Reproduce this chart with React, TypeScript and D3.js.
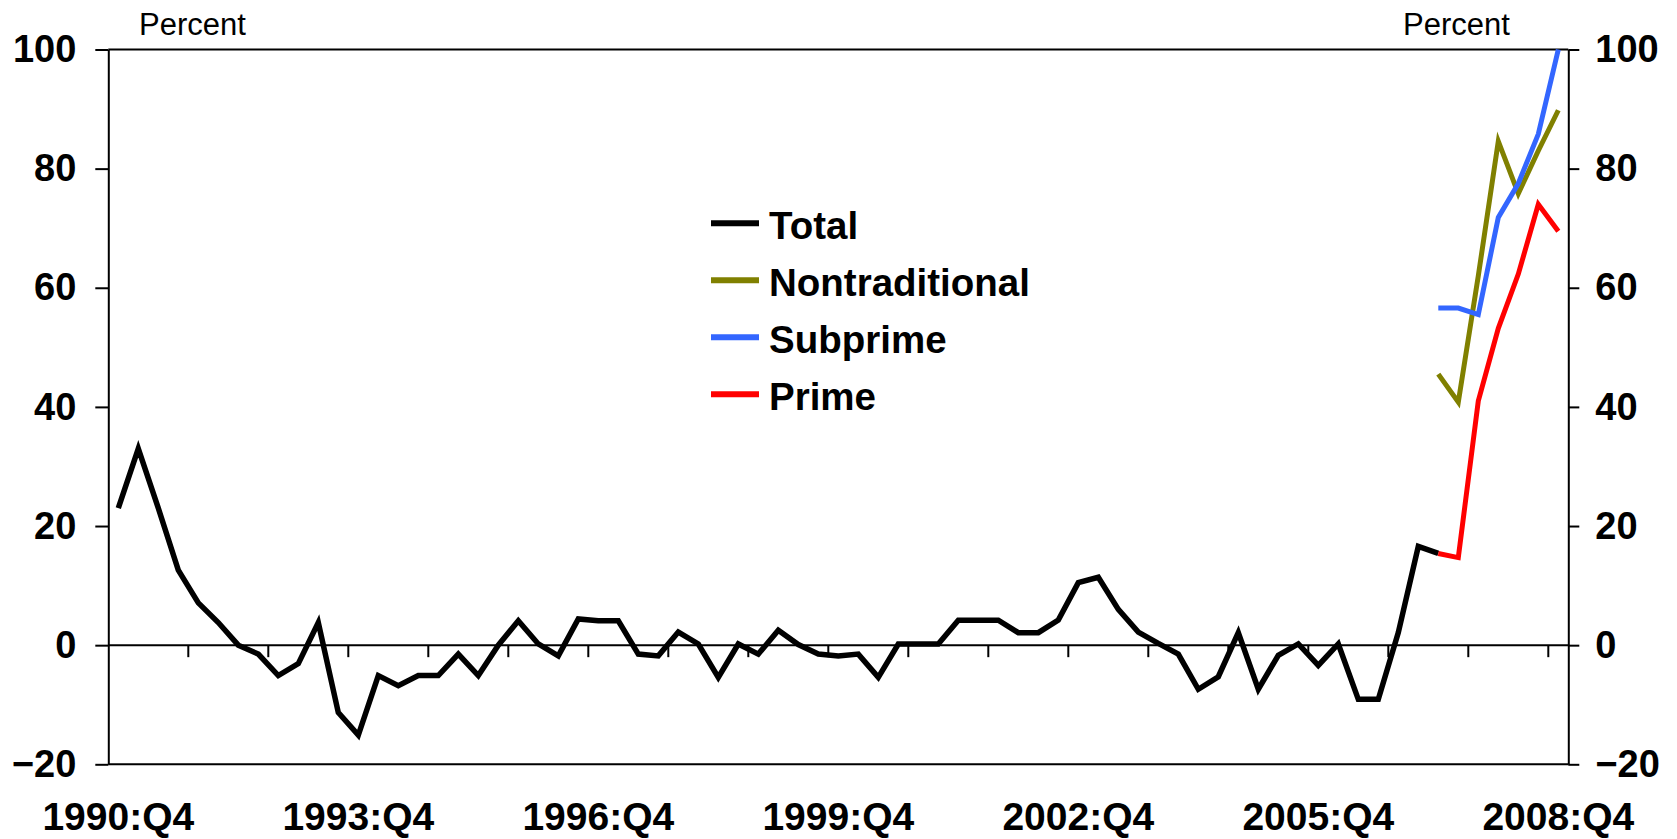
import React, { useEffect, useRef } from "react";
import * as d3 from "d3";

// quarter categories, 1990:Q4 .. 2008:Q4
const quarters: string[] = [];
for (let i = 0; i < 73; i++) {
  quarters.push(`${1990 + Math.floor((i + 3) / 4)}:Q${((i + 3) % 4) + 1}`);
}

const labelQuarters = ["1990:Q4", "1993:Q4", "1996:Q4", "1999:Q4", "2002:Q4", "2005:Q4", "2008:Q4"];
const yTicks = [-20, 0, 20, 40, 60, 80, 100];

// Total, from 1990:Q4 to 2007:Q2
const total = [
  23, 33, 23, 12.6, 7.1, 3.8, 0, -1.5, -5.1, -3.1, 3.8, -11.3, -15.1, -5.1, -6.8, -5.1, -5.1,
  -1.5, -5.1, 0, 4.1, 0.2, -1.8, 4.4, 4.1, 4.1, -1.5, -1.8, 2.2, 0.2, -5.4, 0.2, -1.5, 2.5, 0.1,
  -1.5, -1.8, -1.5, -5.4, 0.2, 0.2, 0.2, 4.2, 4.2, 4.2, 2.1, 2.1, 4.2, 10.5, 11.4, 6, 2.2, 0.3,
  -1.5, -7.4, -5.3, 2.1, -7.4, -1.7, 0.2, -3.4, 0.2, -9.1, -9.1, 2.1, 16.6, 15.4
];

// breakdowns, from 2007:Q2 to 2008:Q4
const recentStart = "2007:Q2";
const nontraditional = [45.5, 40.8, 62, 84.6, 75.8, 83, 89.8];
const subprime = [56.6, 56.6, 55.5, 71.8, 77.5, 85.8, 100];
const prime = [15.4, 14.7, 41, 53.2, 62.3, 74, 69.5];

const seriesNames = ["Total", "Nontraditional", "Subprime", "Prime"];
const seriesColors = ["#000000", "#808000", "#3366FF", "#FF0000"];

const App = () => {
  const svgRef = useRef<SVGSVGElement>(null);

  useEffect(() => {
    const width = 1677;
    const height = 839;
    const left = 108.3;
    const right = 1568.3;
    const font = "'Liberation Sans', Arial, sans-serif";

    const svg = d3.select(svgRef.current).attr("width", width).attr("height", height);
    svg.selectAll("*").remove();

    const x = d3.scaleBand().domain(quarters).range([left, right]);
    const xc = (q: string) => (x(q) as number) + x.bandwidth() / 2;
    const y = d3.scaleLinear().domain([-20, 100]).range([764.3, 49.5]);

    // ---- axes
    const yl = svg
      .append("g")
      .attr("transform", `translate(${left},0)`)
      .call(d3.axisLeft(y).tickValues(yTicks).tickSize(13).tickPadding(19).tickSizeOuter(0));
    const yr = svg
      .append("g")
      .attr("transform", `translate(${right},0)`)
      .call(d3.axisRight(y).tickValues(yTicks).tickSize(11).tickPadding(16).tickSizeOuter(0));
    [yl, yr].forEach(g => {
      g.select(".domain").attr("stroke", "#000").attr("stroke-width", 2);
      g.selectAll(".tick line").attr("stroke", "#000").attr("stroke-width", 2);
      g.selectAll(".tick text")
        .attr("font-family", font)
        .attr("font-size", 38)
        .attr("font-weight", "bold")
        .attr("fill", "#000");
    });

    // top and bottom frame
    svg
      .selectAll(".frame")
      .data([100, -20])
      .join("line")
      .attr("x1", left)
      .attr("x2", right)
      .attr("y1", d => y(d))
      .attr("y2", d => y(d))
      .attr("stroke", "#000")
      .attr("stroke-width", 2);

    // zero line with yearly ticks
    svg
      .append("line")
      .attr("x1", left)
      .attr("x2", right)
      .attr("y1", y(0))
      .attr("y2", y(0))
      .attr("stroke", "#000")
      .attr("stroke-width", 2);
    svg
      .selectAll(".xtick")
      .data(quarters.filter((q, i) => i > 0 && q.endsWith("Q4")))
      .join("line")
      .attr("x1", d => x(d) as number)
      .attr("x2", d => x(d) as number)
      .attr("y1", y(0))
      .attr("y2", y(0) + 12)
      .attr("stroke", "#000")
      .attr("stroke-width", 2);

    svg
      .selectAll(".xlabel")
      .data(labelQuarters)
      .join("text")
      .attr("x", d => xc(d))
      .attr("y", 830)
      .attr("text-anchor", "middle")
      .attr("font-family", font)
      .attr("font-size", 39)
      .attr("font-weight", "bold")
      .text(d => d);

    // unit labels
    svg
      .selectAll(".unit")
      .data([139, 1403])
      .join("text")
      .attr("x", d => d)
      .attr("y", 35)
      .attr("font-family", font)
      .attr("font-size", 31)
      .text("Percent");

    // ---- lines
    const i0 = quarters.indexOf(recentStart);
    const series = [
      total.map((v, i) => ({ q: quarters[i], v })),
      nontraditional.map((v, i) => ({ q: quarters[i0 + i], v })),
      subprime.map((v, i) => ({ q: quarters[i0 + i], v })),
      prime.map((v, i) => ({ q: quarters[i0 + i], v }))
    ];
    const line = d3
      .line<{ q: string; v: number }>()
      .x(d => xc(d.q))
      .y(d => y(d.v));

    svg
      .selectAll(".series")
      .data(series)
      .join("path")
      .attr("d", d => line(d))
      .attr("fill", "none")
      .attr("stroke", (d, i) => seriesColors[i])
      .attr("stroke-width", (d, i) => (i === 0 ? 5.5 : 5));

    // ---- legend
    const legend = svg
      .selectAll(".legend")
      .data(seriesNames)
      .join("g")
      .attr("transform", (d, i) => `translate(711,${223.3 + i * 57})`);
    legend
      .append("line")
      .attr("x1", 0)
      .attr("x2", 48)
      .attr("stroke", (d, i) => seriesColors[i])
      .attr("stroke-width", 6);
    legend
      .append("text")
      .attr("x", 58)
      .attr("y", 16)
      .attr("font-family", font)
      .attr("font-size", 38.5)
      .attr("font-weight", "bold")
      .text(d => d);
  }, []);

  return (
    <svg ref={svgRef} style={{ position: "absolute", left: 0, top: 0, background: "#fff" }} />
  );
};

export default App;
